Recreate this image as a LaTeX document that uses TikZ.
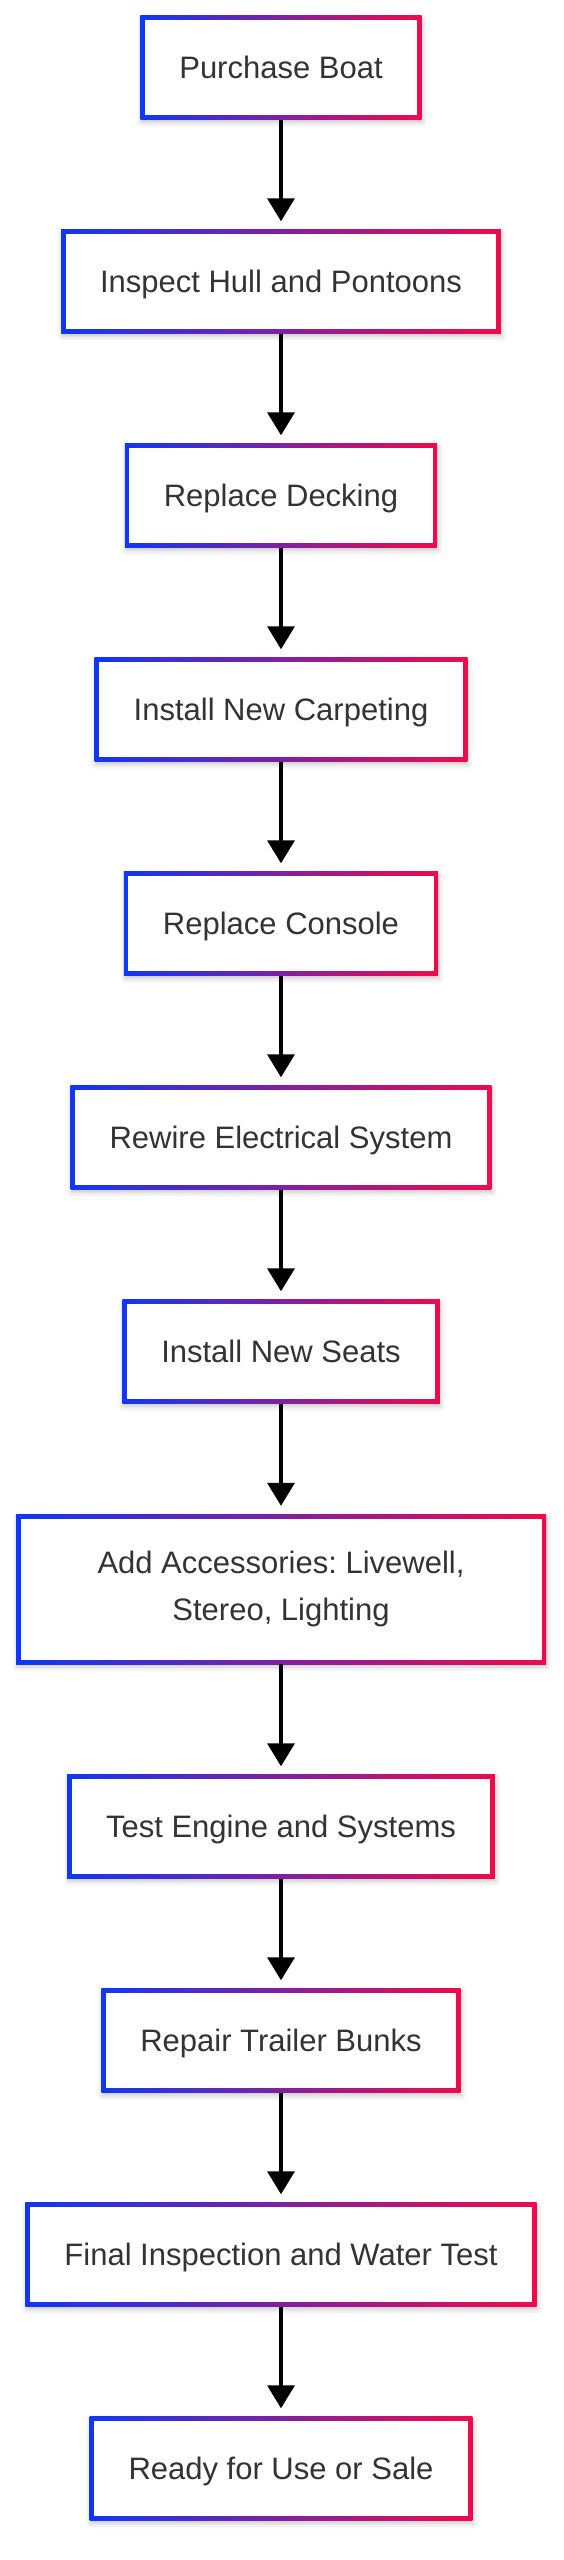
\documentclass[tikz,border=0pt]{standalone}
\usepackage{fontspec}
\setmainfont{Liberation Sans}
\usetikzlibrary{arrows.meta,shadows.blur}
\frenchspacing
\definecolor{bstart}{RGB}{15,55,245}
\definecolor{bend}{RGB}{240,10,75}
\definecolor{txt}{HTML}{333333}
\tikzset{
  boxbase/.style={rectangle, left color=bstart, right color=bend,
    inner xsep=39pt, inner ysep=0pt, text=txt,
    font=\fontsize{31}{46.5}\selectfont\frenchspacing,
    blur shadow={shadow xshift=1pt, shadow yshift=-3pt, shadow blur radius=5pt, shadow opacity=22},
    path picture={\fill[white] ([shift={(4.5pt,4.5pt)}]path picture bounding box.south west) rectangle ([shift={(-4.5pt,-4.5pt)}]path picture bounding box.north east);}},
  stepbox/.style={boxbase, minimum height=104pt, text height=29pt, text depth=7pt},
  twobox/.style={boxbase, minimum height=150pt, minimum width=530pt, align=center},
  flow/.style={line width=3.5pt, draw=black, -{Triangle[length=23pt,width=27pt]}, shorten >=8pt}
}
\begin{document}
\begin{tikzpicture}[x=1pt,y=1pt]
\useasboundingbox (0,0) rectangle (563,-2560);
\node[stepbox] (n1) at (281,-67.5) {Purchase Boat};
\node[stepbox] (n2) at (281,-281.5) {Inspect Hull and Pontoons};
\node[stepbox] (n3) at (281,-495.5) {Replace Decking};
\node[stepbox] (n4) at (281,-709.5) {Install New Carpeting};
\node[stepbox] (n5) at (281,-923.5) {Replace Console};
\node[stepbox] (n6) at (281,-1137.5) {Rewire Electrical System};
\node[stepbox] (n7) at (281,-1351.5) {Install New Seats};
\node[twobox] (n8) at (281,-1589) {Add Accessories: Livewell,\\Stereo, Lighting};
\node[stepbox] (n9) at (281,-1826.5) {Test Engine and Systems};
\node[stepbox] (n10) at (281,-2040.5) {Repair Trailer Bunks};
\node[stepbox] (n11) at (281,-2254.5) {Final Inspection and Water Test};
\node[stepbox] (n12) at (281,-2468.5) {Ready for Use or Sale};
\draw[flow] (n1.south) -- (n2.north);
\draw[flow] (n2.south) -- (n3.north);
\draw[flow] (n3.south) -- (n4.north);
\draw[flow] (n4.south) -- (n5.north);
\draw[flow] (n5.south) -- (n6.north);
\draw[flow] (n6.south) -- (n7.north);
\draw[flow] (n7.south) -- (n8.north);
\draw[flow] (n8.south) -- (n9.north);
\draw[flow] (n9.south) -- (n10.north);
\draw[flow] (n10.south) -- (n11.north);
\draw[flow] (n11.south) -- (n12.north);
\end{tikzpicture}
\end{document}
